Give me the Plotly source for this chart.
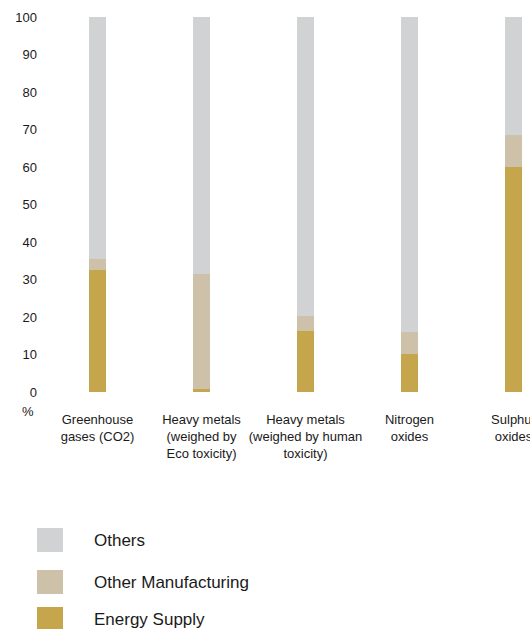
import plotly.graph_objects as go

categories = [
    "Greenhouse<br>gases (CO2)",
    "Heavy metals<br>(weighed by<br>Eco toxicity)",
    "Heavy metals<br>(weighed by human<br>toxicity)",
    "Nitrogen<br>oxides",
    "Sulphur<br>oxides",
]
energy_supply = [32.5, 0.8, 16.3, 10.1, 60.0]
other_manufacturing = [3.0, 30.7, 4.0, 5.9, 8.5]
others = [round(100 - e - m, 1) for e, m in zip(energy_supply, other_manufacturing)]
y_ticks = [0, 10, 20, 30, 40, 50, 60, 70, 80, 90, 100]

series = [
    ("Energy Supply", energy_supply, "#c5a64c"),
    ("Other Manufacturing", other_manufacturing, "#cdc1a9"),
    ("Others", others, "#d1d2d4"),
]

FONT = "Liberation Sans, Arial, sans-serif"
W, H = 530, 629
ML, MR, MT, MB = 44, 0, 17, 237
plot_h = H - MT - MB
plot_w = W - ML - MR

fig = go.Figure()
xs = list(range(len(categories)))
for name, vals, color in series:
    fig.add_trace(go.Bar(
        x=xs, y=vals, name=name, marker=dict(color=color, line=dict(width=0)),
        width=0.163, showlegend=False, hoverinfo="y+name",
    ))

spacing = 104.0
x0 = -(97.5 - ML) / spacing
x1 = x0 + plot_w / spacing

def py(p):  # pixel y to paper
    return (H - MB - p) / plot_h

def px(p):
    return (p - ML) / plot_w

shapes = []
annotations = []
legend_rows = [("Others", "#d1d2d4", 528), ("Other Manufacturing", "#cdc1a9", 570), ("Energy Supply", "#c5a64c", 607)]
for name, color, top in legend_rows:
    shapes.append(dict(type="rect", xref="paper", yref="paper",
                       x0=px(37), x1=px(63), y0=py(top + 24), y1=py(top),
                       fillcolor=color, line=dict(width=0)))
    annotations.append(dict(text=name, xref="paper", yref="paper", x=px(92), y=py(top + 12),
                            xanchor="left", yanchor="middle", showarrow=False,
                            font=dict(size=17, color="#1a1a1a", family=FONT)))

annotations.append(dict(text="%", xref="paper", yref="paper", x=px(28), y=py(411),
                        xanchor="center", yanchor="middle", showarrow=False,
                        font=dict(size=13, color="#1a1a1a", family=FONT)))

fig.update_layout(
    width=W, height=H, autosize=False,
    margin=dict(l=ML, r=MR, t=MT, b=MB, autoexpand=False),
    barmode="stack", bargap=0,
    paper_bgcolor="white", plot_bgcolor="white",
    font=dict(family=FONT, size=13, color="#1a1a1a"),
    xaxis=dict(range=[x0, x1], tickvals=xs, ticktext=categories, showgrid=False,
               zeroline=False, showline=False, ticks="", tickangle=0, automargin=False,
               tickfont=dict(size=13), ticklabelstandoff=18, ticklabeloverflow="allow",
               fixedrange=True),
    yaxis=dict(range=[0, 100], tickvals=y_ticks, showgrid=False, zeroline=False,
               showline=False, ticks="", tickfont=dict(size=13), ticklabelstandoff=6,
               automargin=False, fixedrange=True),
    shapes=shapes, annotations=annotations,
)

fig.write_html("out.html", config={"displayModeBar": False})
